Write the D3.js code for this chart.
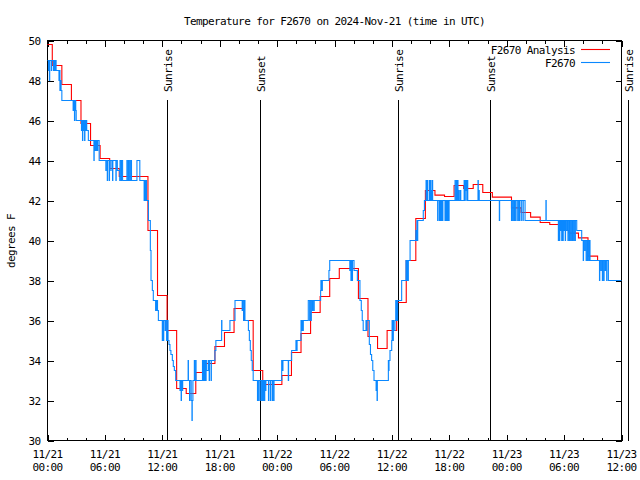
<!DOCTYPE html>
<html><head><meta charset="utf-8">
<script src="https://cdn.jsdelivr.net/npm/d3@7/dist/d3.min.js"></script>
<style>
body{margin:0;background:#fff}
svg text{font-family:"DejaVu Sans Mono","Liberation Mono",monospace;font-size:11px;letter-spacing:-0.6px;fill:#000}
</style></head><body><svg id="c" width="640" height="480"></svg>
<script>
const chartTitle = "Temperature for F2670 on 2024-Nov-21 (time in UTC)";
const yAxisLabel = "degrees F";
const seriesNames = ["F2670 Analysis", "F2670"];
const yTicks = [30, 32, 34, 36, 38, 40, 42, 44, 46, 48, 50];
const xTickHours = [0, 6, 12, 18, 24, 30, 36, 42, 48, 54, 60];
const xTickDates = ["11/21","11/21","11/21","11/21","11/22","11/22","11/22","11/22","11/23","11/23","11/23"];
const xTickTimes = ["00:00","06:00","12:00","18:00","00:00","06:00","12:00","18:00","00:00","06:00","12:00"];
const xMinorHours = [2,4,8,10,14,16,20,22,26,28,32,34,38,40,44,46,50,52,56,58];
// hourly analysis values, hour 0 = 11/21 00:00 UTC
const analysisTemps = [49.8,48.75,47.8,47.0,45.85,44.75,44.1,43.6,43.2,43.2,
  43.2,40.5,37.25,35.5,32.6,32.35,33.4,33.85,34.7,35.4,
  36.6,36.0,33.5,32.8,32.8,33.25,34.4,35.35,36.4,37.2,
  38.1,38.6,38.6,37.1,35.2,34.6,35.5,36.9,39.0,41.1,
  42.5,42.27,42.2,42.75,42.6,42.8,42.4,42.17,42.17,41.63,
  41.4,41.17,40.9,40.8,40.5,40.37,40.13,39.22,39.0];
// observations: [hours since 11/21 00:00 UTC, temp F]
const obsData = [[0,49],[0.1,48.5],[0.13,49],[0.2,48],[0.23,49],[0.4,48.5],[0.43,49],[0.62,48.5],[0.65,49],[0.72,48.5],[0.75,49],[0.82,48.5],[0.85,49],[0.9,48.5],[1.2,48],[1.23,48.5],[1.3,47.5],[1.33,48],[1.42,47.5],[1.5,47],
[2.68,46.5],[2.71,47],[2.82,46],[2.85,47],[2.95,46.5],[3.0,46],
[3.55,45.5],[3.58,46],[3.66,45],[3.69,46],[3.78,45.5],[3.81,46],[3.88,45],[3.91,46],[4.0,45.5],[4.03,46],[4.1,45.5],[4.27,45],
[4.85,44],[4.88,45],[4.97,44.5],[5.0,45],[5.1,44.5],[5.13,45],[5.22,44.5],[5.25,45],[5.4,44],
[6.1,43.5],[6.13,44],[6.25,43],[6.28,44],[6.45,43],[6.48,44],[6.62,43.5],[6.65,44],[6.8,43],[6.83,44],[7.15,43],[7.18,44],[7.3,43.5],[7.55,43],[7.58,44],[7.7,43],[7.73,44],[7.85,43],[8.3,44],[8.33,43],[8.45,44],[8.48,43],[8.6,44],[8.63,43],[8.75,44],[8.78,43],[9.35,44],[9.65,43],[10.1,42],[10.13,43],[10.22,42],[10.25,43],[10.35,42],
[10.55,41],[10.75,39.5],[10.82,38],[10.96,37.5],[11.06,37],[11.3,36.5],[11.33,37],[11.42,36.5],[11.45,37],[11.5,36.5],[11.59,36],
[12.0,35],[12.03,36],[12.12,35],[12.15,36],[12.3,35.5],[12.33,36],[12.45,35],[12.48,36],[12.6,35],[12.7,34.8],[12.8,34.5],[12.9,34.3],[13.05,34],[13.15,33.7],[13.26,33.5],[13.4,33],
[13.85,32.5],[13.88,33],[13.97,32],[14.0,33],[14.1,32.5],[14.13,33],[14.7,34],[14.73,33],[14.85,32],[14.88,33],[15.02,32],[15.1,31],[15.13,32],[15.2,33],[15.35,34],[15.38,33],[15.5,34],[15.53,33],
[16.2,34],[16.23,33],[16.32,34],[16.35,33],[16.45,34],[16.48,33],[16.58,34],[16.61,33.5],[16.8,34],[16.9,33],[16.93,34],[17.1,33],[17.13,34],
[17.5,34.5],[17.6,35],[18.2,36],[18.23,35.5],[19.07,36],[19.6,37],[20.35,36.5],[20.38,37],[20.5,36],[20.53,37],[20.64,36],
[21.0,35.5],[21.1,35],[21.2,34.5],[21.3,34],[21.4,33.5],[21.5,33],
[21.95,32],[21.98,33],[22.1,32],[22.13,33],[22.3,32],[22.33,33],[22.45,32],[22.48,33],[22.57,32],[22.6,33],[22.68,32],[22.71,33],[22.8,32.5],[22.83,33],[23.1,32],[23.13,33],[23.3,32],[23.33,33],[23.5,32],[23.53,33],[23.65,32],[23.68,33],
[24.48,34],[24.58,33.5],[24.61,34],[25.17,33],[25.2,34],
[25.52,34.5],[25.97,35],[26.06,34.5],[26.09,35],
[26.5,36],[26.53,35.5],[26.62,36],[26.65,35.5],[26.74,36],
[27.26,37],[27.4,36],[27.43,37],[27.55,36],[27.58,37],[27.7,36.5],[27.73,37],[27.85,36.5],[27.88,37],
[28.55,37.5],[28.58,38],[28.65,37.5],[28.73,38],[29.42,38.5],[29.5,39],
[31.6,38.5],[31.63,39],[31.72,38],[31.75,39],[31.85,38],[31.88,39],[32.04,38.5],
[32.39,38],[32.66,37],[32.8,36.5],[32.9,36],[33.0,35.5],[33.29,36],[33.32,35.5],[33.4,36],[33.64,34.8],[33.76,34.3],[33.88,34],[34.0,33.5],[34.13,33],
[34.35,32.5],[34.38,33],[34.45,32],[34.48,33],
[35.63,34],[35.66,33.5],[35.7,34],[35.8,34.5],[35.98,35],[36.02,36],[36.05,35],[36.15,36],[36.18,35.5],[36.32,36],[36.4,37],[36.43,36],[36.52,37],[36.55,36],[36.6,37],
[37.02,38],[37.47,39],[37.5,38],[37.6,39],[37.63,38],[37.72,39],[37.9,40],
[38.5,40.5],[38.53,40],[38.62,41],[38.65,40],[38.7,41],
[39.28,41.5],[39.4,42],[39.57,43],[39.6,42],[39.71,43],[39.74,42],[39.92,43],[39.95,42],[40.05,43],[40.08,42.5],[40.16,42],[40.23,43],[40.26,42],
[40.78,41],[40.81,42],[40.96,41],[40.99,42],[41.1,41],[41.13,42],[41.2,41],[41.23,42],[41.3,41],[41.33,42],[41.55,41],[41.58,42],[41.65,41],[41.68,42],[41.75,41],[41.78,42],[41.85,41],[41.88,42],[41.95,41],[41.98,42],
[42.6,43],[42.63,42],[42.75,43],[42.78,42],[42.88,43],[42.91,42.5],[42.97,42],[43.1,42.5],[43.2,42],[43.55,43],[43.58,42],[43.67,43],[43.7,42.5],[43.8,43],[43.83,42],[43.9,43],[43.93,42],
[45.0,43],[45.03,42],[45.1,42.5],[45.13,42],
[47.23,41],[47.26,42],
[48.5,41],[48.53,42],[48.65,41],[48.68,42],[48.8,41],[48.83,42],[48.95,41],[48.98,42],[49.15,41],[49.18,42],[49.3,41],[49.33,42],[49.5,41],[49.53,42],[49.7,41],[49.73,42],[49.92,41],
[52.1,42],[52.13,41],
[53.4,40],[53.43,41],[53.52,40],[53.55,41],[53.62,40.5],[53.65,41],[53.75,40],[53.78,41],[53.88,40],[53.91,41],[54.0,40.5],[54.03,41],[54.12,40],[54.15,41],[54.27,40.5],[54.3,41],[54.4,40],[54.43,41],[54.55,40],[54.58,41],[54.7,40],[54.73,41],[54.85,40],[54.88,41],[55.0,40],[55.03,41],[55.15,40],[55.18,41],[55.32,40.5],[55.84,40],
[56.0,39],[56.03,40],[56.15,39.5],[56.18,40],[56.3,39],[56.33,40],[56.45,39],[56.48,40],[56.6,39],[56.63,40],[56.71,39],
[57.7,38],[57.73,39],[57.85,38.5],[57.88,39],[58.0,38],[58.03,39],[58.15,38],[58.18,39],[58.3,38.5],[58.33,39],[58.45,38],[58.48,39],[58.63,38],[60,38]];
const sunHours = [12.52, 22.22, 36.67, 46.25, 60.71];
const sunLabels = ["Sunrise", "Sunset", "Sunrise", "Sunset", "Sunrise"];
const seriesColors = ["#ff0000", "#0a88ff"];

const svg = d3.select("#c");
const L = 47.5, R = 621.5, T = 40.5, B = 440.5;
const x = d3.scaleLinear().domain([0, 60]).range([L, R]);
const y = d3.scaleLinear().domain([30, 50]).range([B, T]);

svg.append("text").attr("x", (L + R) / 2).attr("y", 25).attr("text-anchor", "middle").text(chartTitle);
svg.append("text").attr("transform", "translate(15,241) rotate(-90)").attr("text-anchor", "middle").text(yAxisLabel);

function styleAxis(g) {
  g.select(".domain").remove();
  g.selectAll("line").attr("stroke", "#000").attr("shape-rendering", "crispEdges");
}
svg.append("g").attr("transform", `translate(${L},0)`)
  .call(d3.axisLeft(y).tickValues(yTicks).tickSize(-6).tickPadding(7).tickFormat(d3.format("d")))
  .call(styleAxis).call(g => g.selectAll("text").attr("font-family", null).attr("font-size", null));
svg.append("g").attr("transform", `translate(${R},0)`)
  .call(d3.axisRight(y).tickValues(yTicks).tickSize(-6).tickFormat(""))
  .call(styleAxis);
svg.append("g").attr("transform", `translate(0,${B})`)
  .call(d3.axisBottom(x).tickValues(xTickHours).tickSize(-6).tickFormat(""))
  .call(styleAxis);
svg.append("g").attr("transform", `translate(0,${B})`)
  .call(d3.axisBottom(x).tickValues(xMinorHours).tickSize(-3).tickFormat(""))
  .call(styleAxis);
svg.append("g").attr("transform", `translate(0,${T})`)
  .call(d3.axisTop(x).tickValues(xTickHours).tickSize(-6).tickFormat(""))
  .call(styleAxis);
svg.append("g").attr("transform", `translate(0,${T})`)
  .call(d3.axisTop(x).tickValues(xMinorHours).tickSize(-3).tickFormat(""))
  .call(styleAxis);
const xl = svg.append("g");
xTickHours.forEach((h, i) => {
  const t = xl.append("text").attr("text-anchor", "middle");
  t.append("tspan").attr("x", x(h)).attr("y", 457.5).text(xTickDates[i]);
  t.append("tspan").attr("x", x(h)).attr("y", 470.5).text(xTickTimes[i]);
});
svg.append("rect").attr("x", L).attr("y", T).attr("width", R - L).attr("height", B - T)
  .attr("fill", "none").attr("stroke", "#000").attr("shape-rendering", "crispEdges");

sunHours.forEach((h, i) => {
  const px = Math.round(x(h)) + 0.5;
  svg.append("line").attr("x1", px).attr("x2", px).attr("y1", 100).attr("y2", B)
    .attr("stroke", "#000").attr("shape-rendering", "crispEdges");
  svg.append("text").attr("transform", `translate(${px + 4},92) rotate(-90)`).text(sunLabels[i]);
});

const analysisLine = d3.line().x((d, i) => x(i)).y(d => y(d)).curve(d3.curveStep);
svg.append("path").datum(analysisTemps).attr("d", analysisLine)
  .attr("fill", "none").attr("stroke", seriesColors[0]).attr("stroke-width", 1.1);
const obsLine = d3.line().x(d => x(d[0])).y(d => y(d[1])).curve(d3.curveStepAfter);
svg.append("path").datum(obsData).attr("d", obsLine)
  .attr("fill", "none").attr("stroke", seriesColors[1]).attr("stroke-width", 1.1);

seriesNames.forEach((n, i) => {
  const ly = 49.5 + i * 13;
  svg.append("text").attr("x", 575).attr("y", ly + 4).attr("text-anchor", "end").text(n);
  svg.append("line").attr("x1", 581).attr("x2", 610).attr("y1", ly).attr("y2", ly)
    .attr("stroke", seriesColors[i]).attr("stroke-width", 1.1);
});
</script></body></html>
